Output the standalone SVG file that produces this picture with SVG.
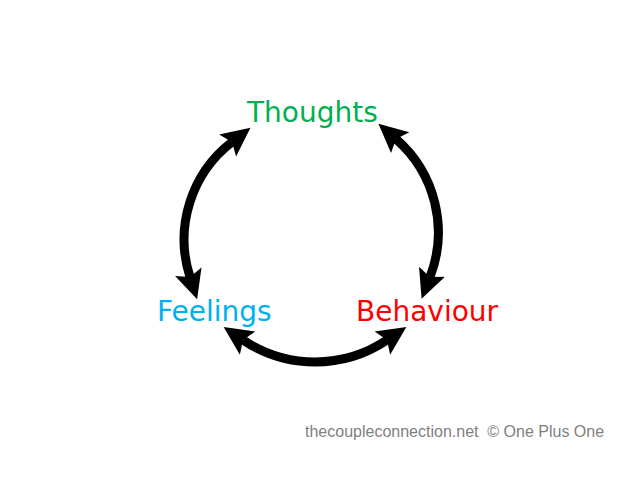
<svg xmlns="http://www.w3.org/2000/svg" width="638" height="478" viewBox="0 0 638 478">
<style>
.lbl{font-family:"DejaVu Sans","Verdana",sans-serif;font-size:28px}
.shaft{fill:none;stroke:#000;stroke-width:9;marker-start:url(#head);marker-end:url(#head)}
.foot{font-family:"Liberation Sans",Arial,sans-serif;font-size:16px;fill:#7f7f7f}
</style>
<defs>
<marker id="head" markerUnits="userSpaceOnUse" markerWidth="30" markerHeight="30" viewBox="0 -13 27 26" refX="5" refY="0" orient="auto-start-reverse">
<path d="M0,-12.5 L26,0 L0,12.5 L5,0 Z" fill="#000"/>
</marker>
</defs>
<rect width="638" height="478" fill="#fff"/>
<g id="connectors">
<path class="shaft" d="M232,142 A123,123 0 0,0 190,277"/>
<path class="shaft" d="M396,139 A124,124 0 0,1 430,277"/>
<path class="shaft" d="M243,340 A129,129 0 0,0 387,340"/>
</g>
<g id="thoughts"><text class="lbl" x="247" y="122" fill="#00b050">Thoughts</text></g>
<g id="feelings"><text class="lbl" x="157" y="321" fill="#00b0f0">Feelings</text></g>
<g id="behaviour"><text class="lbl" x="356" y="321" fill="#ff0000">Behaviour</text></g>
<g id="footer"><text class="foot" x="305" y="437" xml:space="preserve">thecoupleconnection.net  © One Plus One</text></g>
</svg>
